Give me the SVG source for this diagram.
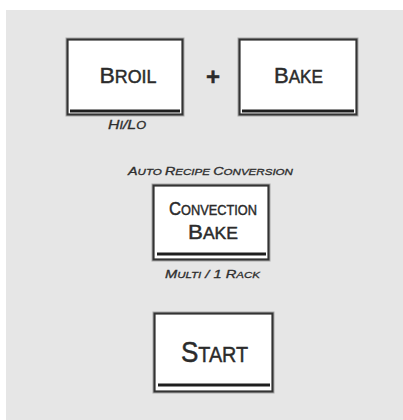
<svg xmlns="http://www.w3.org/2000/svg" width="403" height="420" viewBox="0 0 403 420">
<style>
.btn{fill:#fff;stroke:#333;stroke-width:2.2}
.halo{fill:none;stroke:#a8a8a8;stroke-width:1}
.bar{stroke:#1e1e1e;stroke-width:3}
.lbl{font-family:"Liberation Sans",Arial,sans-serif;fill:#2b2b2b;stroke:#2b2b2b;stroke-width:0.45;text-anchor:middle}
.it{font-family:"Liberation Sans",Arial,sans-serif;font-style:italic;fill:#2e2e2e;stroke:#2e2e2e;stroke-width:0.3;text-anchor:middle}
</style>
<rect x="0" y="0" width="403" height="420" fill="#ffffff"/>
<rect x="6" y="10" width="397" height="410" fill="#e6e6e6"/>
<g id="broil">
<rect class="halo" x="66" y="38" width="118" height="78"/>
<rect class="btn" x="67.5" y="39.5" width="115" height="75"/>
<line class="bar" x1="70" y1="111" x2="180" y2="111"/>
<text class="lbl" x="128" y="83" textLength="57" lengthAdjust="spacingAndGlyphs"><tspan font-size="22.5">B</tspan><tspan font-size="17.5">ROIL</tspan></text>
<text class="it" x="127" y="129" textLength="38" lengthAdjust="spacingAndGlyphs"><tspan font-size="12.5">H</tspan><tspan font-size="10">I</tspan><tspan font-size="12.5">/L</tspan><tspan font-size="10">O</tspan></text>
</g>
<g id="plus">
<text class="lbl" x="213" y="85" font-size="24" font-weight="bold" fill="#3a2f30">+</text>
</g>
<g id="bake">
<rect class="halo" x="238" y="38" width="120" height="78"/>
<rect class="btn" x="239.5" y="39.5" width="117" height="75"/>
<line class="bar" x1="242" y1="111" x2="354" y2="111"/>
<text class="lbl" x="298.5" y="83" textLength="49" lengthAdjust="spacingAndGlyphs"><tspan font-size="22.5">B</tspan><tspan font-size="17.5">AKE</tspan></text>
</g>
<g id="convection-bake">
<text class="it" x="210.5" y="175" textLength="165" lengthAdjust="spacingAndGlyphs"><tspan font-size="10.5">A</tspan><tspan font-size="8.5">UTO </tspan><tspan font-size="10.5">R</tspan><tspan font-size="8.5">ECIPE </tspan><tspan font-size="10.5">C</tspan><tspan font-size="8.5">ONVERSION</tspan></text>
<rect class="halo" x="152" y="184" width="118" height="77"/>
<rect class="btn" x="153.5" y="185.5" width="115" height="74"/>
<line class="bar" x1="157" y1="254" x2="266" y2="254"/>
<text class="lbl" x="213" y="215" textLength="88" lengthAdjust="spacingAndGlyphs"><tspan font-size="19">C</tspan><tspan font-size="14.5">ONVECTION</tspan></text>
<text class="lbl" x="213" y="239" textLength="50" lengthAdjust="spacingAndGlyphs"><tspan font-size="21">B</tspan><tspan font-size="16.5">AKE</tspan></text>
<text class="it" x="212.5" y="278" textLength="95" lengthAdjust="spacingAndGlyphs"><tspan font-size="11.5">M</tspan><tspan font-size="9">ULTI</tspan><tspan font-size="11.5"> / 1 R</tspan><tspan font-size="9">ACK</tspan></text>
</g>
<g id="start">
<rect class="halo" x="153" y="312" width="121" height="81"/>
<rect class="btn" x="154.5" y="313.5" width="118" height="78"/>
<line class="bar" x1="158" y1="385" x2="270" y2="385"/>
<text class="lbl" transform="translate(214.5 362) scale(0.9 1)" x="0" y="0"><tspan font-size="29">S</tspan><tspan font-size="22">TART</tspan></text>
</g>
<g id="connectors"></g>
</svg>
